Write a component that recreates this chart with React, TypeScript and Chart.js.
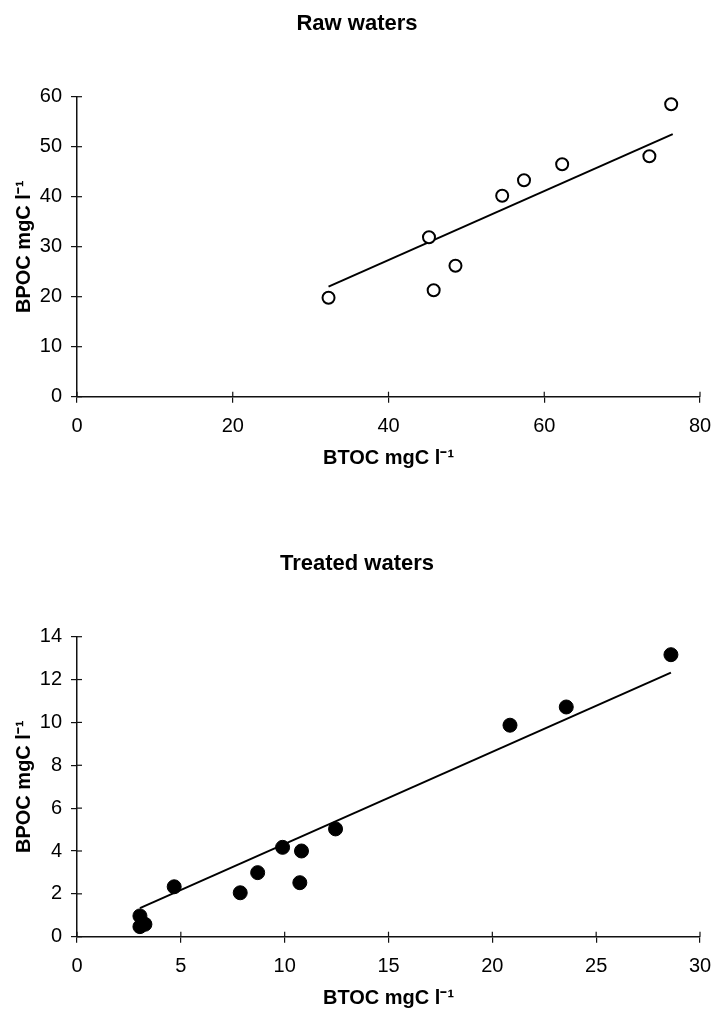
import React, { useEffect, useRef } from "react";
import { Chart, registerables } from "chart.js";

Chart.register(...registerables);

// ---- Data ----
const rawTitle = "Raw waters";
const rawBTOC = [32.3, 45.2, 45.8, 48.6, 54.6, 57.4, 62.3, 73.5, 76.3];
const rawBPOC = [19.8, 31.9, 21.3, 26.2, 40.2, 43.3, 46.5, 48.1, 58.5];
const rawFitX = [32.3, 76.5];
const rawFitY = [22.0, 52.5];
const rawXTicks = [0, 20, 40, 60, 80];
const rawYTicks = [0, 10, 20, 30, 40, 50, 60];

const treatedTitle = "Treated waters";
const treatedBTOC = [3.03, 3.03, 3.27, 4.68, 7.86, 8.7, 9.9, 10.81, 10.73, 12.45, 20.85, 23.56, 28.6];
const treatedBPOC = [0.97, 0.47, 0.58, 2.33, 2.05, 2.99, 4.17, 4.0, 2.52, 5.03, 9.87, 10.72, 13.16];
const treatedFitX = [3.03, 28.6];
const treatedFitY = [1.33, 12.32];
const treatedXTicks = [0, 5, 10, 15, 20, 25, 30];
const treatedYTicks = [0, 2, 4, 6, 8, 10, 12, 14];

const xTitle = "BTOC mgC l\u207B\u00B9";
const yTitle = "BPOC mgC l\u207B\u00B9";

const FONT = "'Liberation Sans', Arial, sans-serif";

const innerTicks = {
  id: "innerTicks",
  afterDraw(chart: any) {
    const { ctx, chartArea } = chart;
    ctx.save();
    ctx.strokeStyle = "#111";
    ctx.lineWidth = 1.2;
    const xs = chart.scales.x;
    const ys = chart.scales.y;
    xs.ticks.forEach((t: any) => {
      const px = xs.getPixelForValue(t.value);
      ctx.beginPath();
      ctx.moveTo(px, chartArea.bottom);
      ctx.lineTo(px, chartArea.bottom - 5);
      ctx.stroke();
    });
    ys.ticks.forEach((t: any) => {
      const py = ys.getPixelForValue(t.value);
      ctx.beginPath();
      ctx.moveTo(chartArea.left, py);
      ctx.lineTo(chartArea.left + 5, py);
      ctx.stroke();
    });
    ctx.restore();
  },
};

function makeConfig(
  title: string,
  xs: number[],
  ys: number[],
  fx: number[],
  fy: number[],
  xTicks: number[],
  yTicks: number[],
  filled: boolean
): any {
  const pts = xs.map((x, i) => ({ x, y: ys[i] }));
  const fit = fx.map((x, i) => ({ x, y: fy[i] }));
  return {
    type: "scatter",
    data: {
      datasets: [
        {
          type: "line",
          data: fit,
          borderColor: "#000",
          borderWidth: 2,
          pointRadius: 0,
          fill: false,
          order: 2,
        },
        {
          type: "scatter",
          data: pts,
          pointRadius: filled ? 7 : 6,
          pointBorderWidth: filled ? 1 : 2,
          pointBackgroundColor: filled ? "#000" : "#fff",
          pointBorderColor: "#000",
          order: 1,
        },
      ],
    },
    options: {
      responsive: false,
      animation: false,
      layout: { padding: 0 },
      plugins: {
        legend: { display: false },
        tooltip: { enabled: false },
        title: {
          display: true,
          text: title,
          color: "#000",
          font: { family: FONT, size: 22, weight: "bold" },
          padding: { top: 11, bottom: 59.3 },
        },
      },
      scales: {
        x: {
          type: "linear",
          min: xTicks[0],
          max: xTicks[xTicks.length - 1],
          afterBuildTicks: (s: any) => {
            s.ticks = xTicks.map((v) => ({ value: v }));
          },
          afterFit: (s: any) => {
            s.height = 73.3;
            s.paddingLeft = 0;
            s.paddingRight = 14;
          },
          grid: { display: true, drawOnChartArea: false, drawTicks: true, tickLength: 6, color: "#111", lineWidth: 1.2 },
          border: { display: true, color: "#111", width: 1.5 },
          ticks: { color: "#000", padding: 12, font: { family: FONT, size: 20 } },
          title: {
            display: true,
            text: xTitle,
            color: "#000",
            font: { family: FONT, size: 20, weight: "bold" },
            padding: { top: 0, bottom: 0 },
          },
        },
        y: {
          type: "linear",
          min: yTicks[0],
          max: yTicks[yTicks.length - 1],
          afterBuildTicks: (s: any) => {
            s.ticks = yTicks.map((v) => ({ value: v }));
          },
          afterFit: (s: any) => {
            s.width = 77;
          },
          grid: { display: true, drawOnChartArea: false, drawTicks: true, tickLength: 6, color: "#111", lineWidth: 1.2 },
          border: { display: true, color: "#111", width: 1.5 },
          ticks: { color: "#000", padding: 9, font: { family: FONT, size: 20 } },
          title: {
            display: true,
            text: yTitle,
            color: "#000",
            font: { family: FONT, size: 20, weight: "bold" },
            padding: { top: 12, bottom: 0 },
          },
        },
      },
    },
    plugins: [innerTicks],
  };
}

function ChartCanvas({ config, top }: { config: any; top: number }) {
  const ref = useRef<HTMLCanvasElement | null>(null);
  useEffect(() => {
    if (!ref.current) return;
    const chart = new Chart(ref.current, config);
    return () => chart.destroy();
  }, []);
  return (
    <div style={{ position: "absolute", left: 0, top, width: 714, height: 470 }}>
      <canvas ref={ref} width={714} height={470} style={{ width: 714, height: 470, display: "block" }} />
    </div>
  );
}

export default function App() {
  const rawCfg = makeConfig(rawTitle, rawBTOC, rawBPOC, rawFitX, rawFitY, rawXTicks, rawYTicks, false);
  const treatedCfg = makeConfig(
    treatedTitle,
    treatedBTOC,
    treatedBPOC,
    treatedFitX,
    treatedFitY,
    treatedXTicks,
    treatedYTicks,
    true
  );
  return (
    <div style={{ position: "absolute", left: 0, top: 0, width: 714, height: 1010, background: "#fff" }}>
      <ChartCanvas config={rawCfg} top={0} />
      <ChartCanvas config={treatedCfg} top={540} />
    </div>
  );
}
